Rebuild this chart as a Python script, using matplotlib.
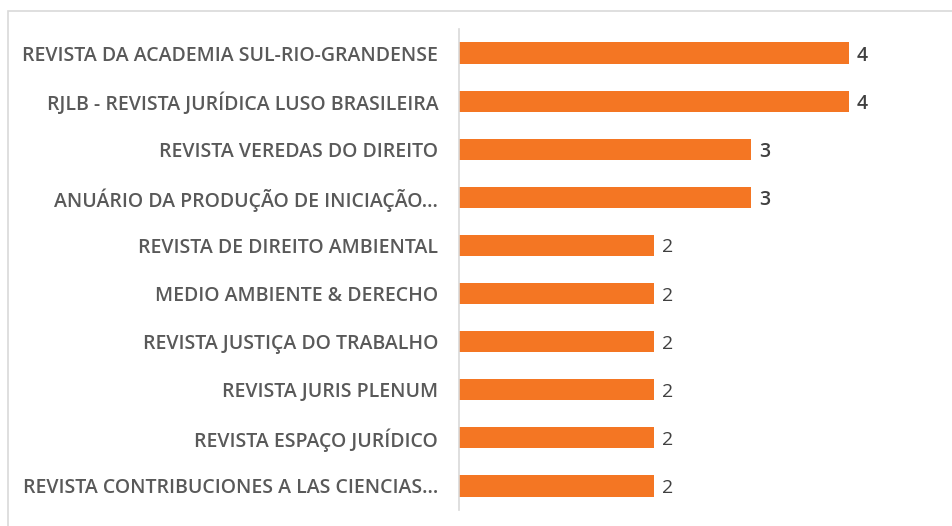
import matplotlib.pyplot as plt
from matplotlib.patches import Rectangle

# journals, top to bottom as in the chart
journals = [
    'REVISTA DA ACADEMIA SUL-RIO-GRANDENSE',
    'RJLB - REVISTA JURÍDICA LUSO BRASILEIRA',
    'REVISTA VEREDAS DO DIREITO',
    'ANUÁRIO DA PRODUÇÃO DE INICIAÇÃO...',
    'REVISTA DE DIREITO AMBIENTAL',
    'MEDIO AMBIENTE & DERECHO',
    'REVISTA JUSTIÇA DO TRABALHO',
    'REVISTA JURIS PLENUM',
    'REVISTA ESPAÇO JURÍDICO',
    'REVISTA CONTRIBUCIONES A LAS CIENCIAS...',
]
counts = [4, 4, 3, 3, 2, 2, 2, 2, 2, 2]

W, H = 952, 526
fig = plt.figure(figsize=(W / 100, H / 100), dpi=100)

# light outer frame (chart area border, cut off at right/bottom)
fig.patches.append(Rectangle((8 / W, -0.05), 1.1, 1 - 11 / H + 0.05,
                             transform=fig.transFigure, fill=False,
                             edgecolor='#d9d9d9', linewidth=1.2))

ax = fig.add_axes([459 / W, 1 - 510 / H, (946 - 459) / W, (510 - 29) / H])
ypos = list(range(len(journals)))
ax.barh(ypos, counts, height=0.44, color='#F47623')
ax.set_ylim(len(journals) - 0.5, -0.5)
ax.set_xlim(0, 5)

ax.set_yticks(ypos)
ax.set_yticklabels(journals, fontsize=14, color='#595959',
                   family='Open Sans', fontweight='semibold')
ax.tick_params(axis='y', length=0, pad=15)
ax.set_xticks([])

for s in ['top', 'right', 'bottom']:
    ax.spines[s].set_visible(False)
ax.spines['left'].set_color('#d9d9d9')
ax.spines['left'].set_linewidth(1.2)

for y, v in zip(ypos, counts):
    ax.text(v + 0.08, y, str(v), va='center_baseline', ha='left', fontsize=14,
            color='#404040', family='Open Sans',
            fontweight='semibold' if v > 2 else 'normal')

fig.savefig('out.png', dpi=100)
